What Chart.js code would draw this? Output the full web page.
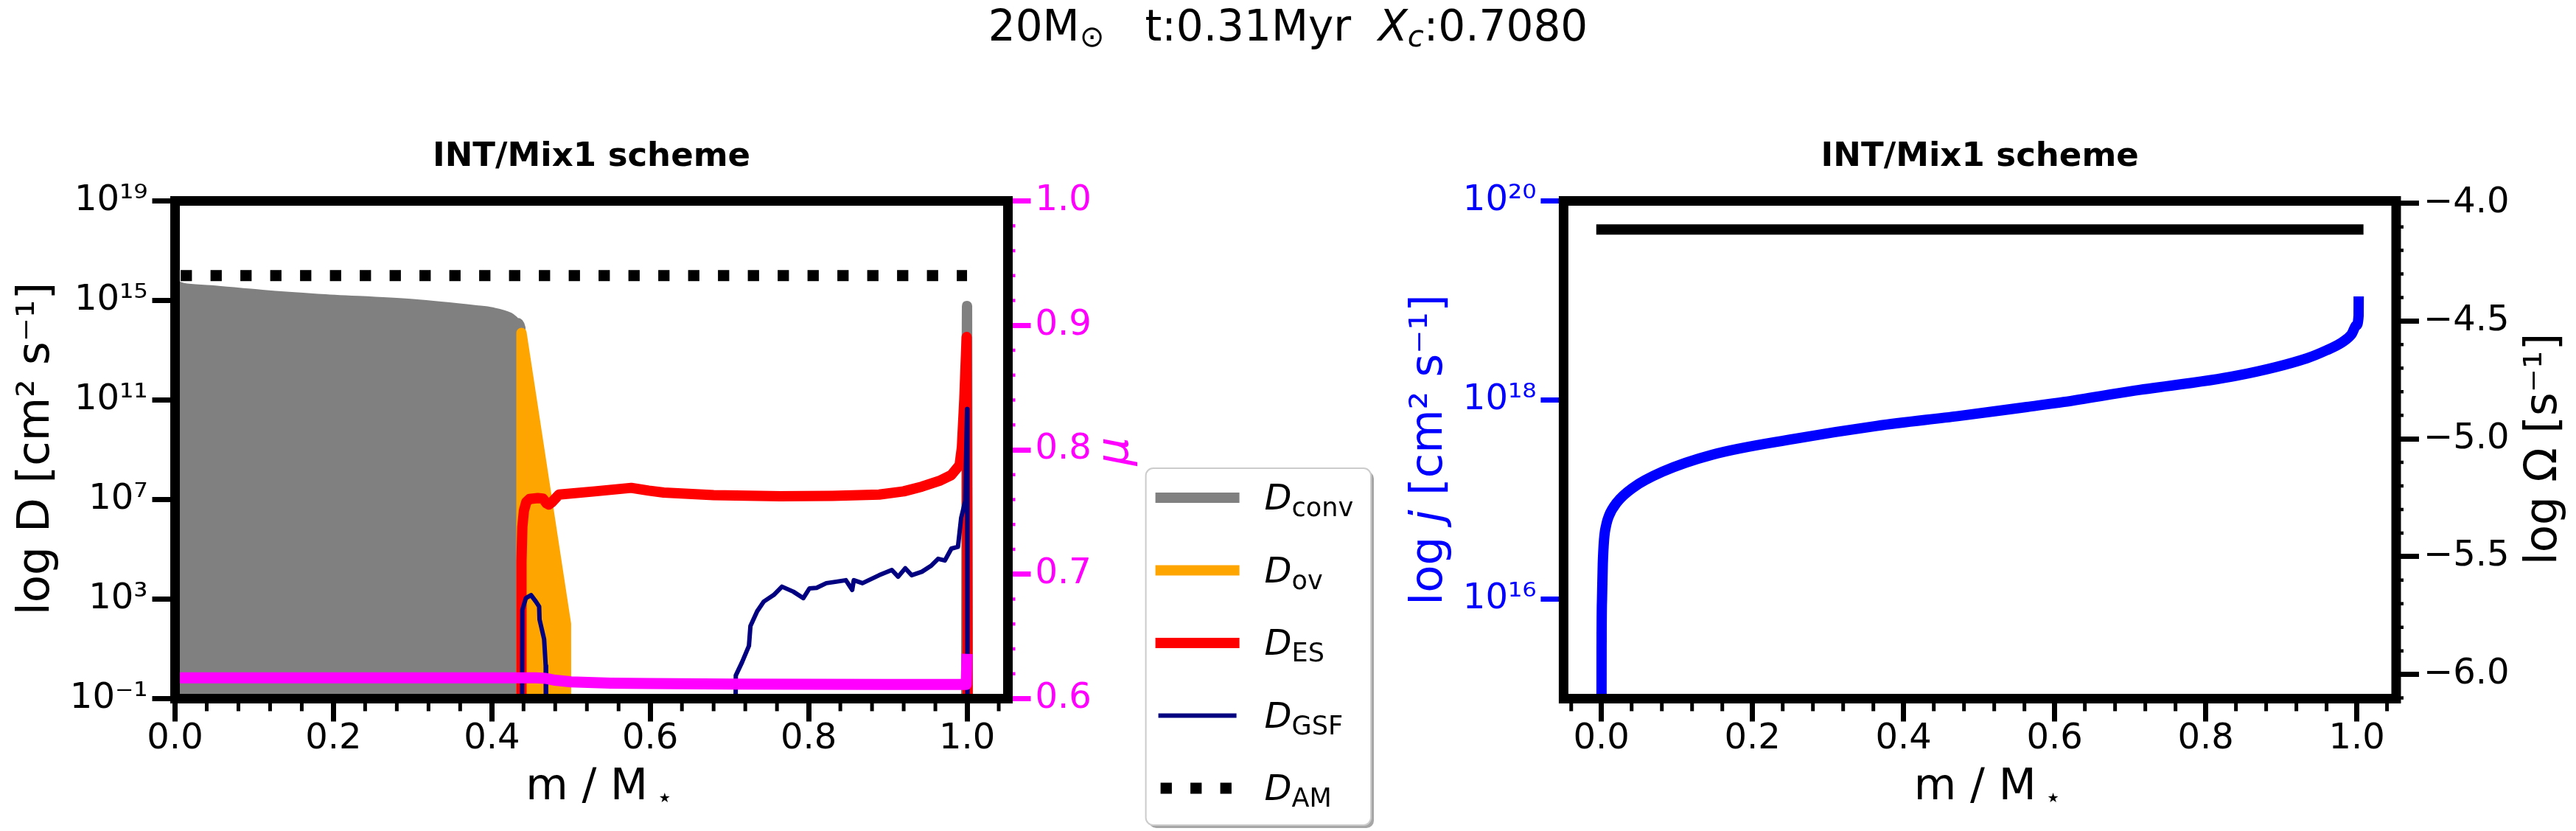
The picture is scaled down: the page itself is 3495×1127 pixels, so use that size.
<!DOCTYPE html>
<html>
<head>
<meta charset="utf-8">
<title>Diffusion coefficients and angular momentum profile</title>
<script src="https://cdn.jsdelivr.net/npm/chart.js@4.4.0/dist/chart.umd.min.js"></script>
<style>
  html, body { margin: 0; padding: 0; background: #fff; overflow: hidden; }
  #page { position: relative; width: 3495px; height: 1127px; }
  canvas { position: absolute; top: 0; }
  #leftChart { left: 0; }
  #rightChart { left: 1880px; }
  #suptitle {
    position: absolute; left: 0; top: 6px; width: 3495px;
    text-align: center; white-space: pre; color: #000;
    font-family: 'DejaVu Sans'; font-size: 58px; line-height: 58px;
  }
  #suptitle sub { font-size: 40px; vertical-align: -8px; line-height: 0; }
</style>
</head>
<body>
<div id="page">
  <canvas id="leftChart" width="1880" height="1127"></canvas>
  <canvas id="rightChart" width="1615" height="1127"></canvas>
  <div id="suptitle">20M<sub>⊙</sub>&nbsp;&nbsp; t:0.31Myr&nbsp; <i>X<sub>c</sub></i>:0.7080</div>
</div>
<script>
// ---- left panel: diffusion coefficients (log10 D) and mean molecular weight ----
const convX = [0, 0.01, 0.045, 0.11, 0.18, 0.30, 0.38, 0.40, 0.422, 0.432, 0.436, 0.4362, 0.9985, 1.0, 1.0012];
const convY = [15.6, 15.5, 15.41, 15.22, 15.06, 14.85, 14.6, 14.52, 14.32, 14.1, 13.9, -5, -5, 14.78, -5];

const ovX = [0.4372, 0.4374, 0.4936, 0.4938];
const ovY = [-5, 13.7, 2.0, -5];

const esX = [0.4372, 0.4374, 0.4385, 0.4405, 0.4435, 0.4475, 0.458, 0.4645, 0.469, 0.472, 0.476, 0.4848,
             0.53, 0.576, 0.598, 0.617, 0.68, 0.764, 0.83, 0.889, 0.92, 0.943, 0.965, 0.98,
             0.9906, 0.9935, 0.9965, 0.9995, 1.001];
const esY = [-5, 4.5, 5.9, 6.55, 6.9, 7.02, 7.06, 7.04, 6.85, 6.8, 6.9, 7.2,
             7.33, 7.47, 7.36, 7.28, 7.18, 7.13, 7.15, 7.2, 7.33, 7.52, 7.75, 7.98,
             8.39, 9.1, 11.0, 13.53, -5];

const gsfX = [0.4378, 0.4385, 0.443, 0.4495, 0.4556, 0.4597, 0.4602, 0.466, 0.468, 0.4685,
              0.707, 0.708, 0.716, 0.7246, 0.7265, 0.735, 0.7433, 0.756, 0.7663, 0.7806,
              0.7933, 0.801, 0.81, 0.8223, 0.835, 0.847, 0.855, 0.857, 0.868, 0.889,
              0.905, 0.913, 0.922, 0.93, 0.943, 0.955, 0.9635, 0.972, 0.9802, 0.9885,
              0.9926, 0.9977, 1.0, 1.0005];
const gsfY = [-5, 2.57, 3.04, 3.16, 2.9, 2.7, 2.18, 1.39, 0.32, -5,
              -5, -0.07, 0.47, 1.12, 1.92, 2.51, 2.9, 3.17, 3.5, 3.3,
              3.04, 3.43, 3.45, 3.64, 3.7, 3.76, 3.37, 3.76, 3.64, 3.96,
              4.17, 3.9, 4.24, 3.96, 4.1, 4.35, 4.62, 4.55, 5.03, 5.1,
              6.27, 6.94, 10.64, -5];

const amX = [0, 1.0];
const amY = [16.0, 16.0];

const muX = [0, 0.2, 0.4, 0.455, 0.468, 0.48, 0.5, 0.55, 0.6, 0.7, 0.8, 0.9, 0.999, 1.0];
const muY = [0.6167, 0.6167, 0.6167, 0.6167, 0.6163, 0.6148, 0.6135, 0.6125, 0.6122, 0.6117, 0.6115, 0.6114, 0.6114, 0.636];

// ---- right panel: specific angular momentum (log10 j) and log Omega ----
const jX = [0, 0.0002, 0.0008, 0.0018, 0.0035, 0.0065, 0.0096, 0.0204, 0.042, 0.081, 0.1466, 0.2557,
            0.3646, 0.4735, 0.563, 0.612, 0.702, 0.8414, 0.934, 0.96, 0.9806, 0.993, 0.9995, 1.0024, 1.0025];
const jY = [14.0, 15.5, 16.0, 16.35, 16.6, 16.75, 16.83, 16.97, 17.12, 17.28, 17.45, 17.61,
            17.74, 17.84, 17.93, 17.98, 18.09, 18.245, 18.42, 18.5, 18.58, 18.66, 18.75, 18.85, 19.04];

const omegaX = [0, 1.002];
const omegaY = [-4.1115, -4.1115];

// ---- ticks ----
const xTickVals = [0, 0.2, 0.4, 0.6, 0.8, 1.0];
const xTickLabels = ['0.0', '0.2', '0.4', '0.6', '0.8', '1.0'];
const dTickVals = [-1, 3, 7, 11, 15, 19];
const dTickLabels = ['10⁻¹', '10³', '10⁷', '10¹¹', '10¹⁵', '10¹⁹'];
const muTickVals = [0.6, 0.7, 0.8, 0.9, 1.0];
const muTickLabels = ['0.6', '0.7', '0.8', '0.9', '1.0'];
const jTickVals = [16, 18, 20];
const jTickLabels = ['10¹⁶', '10¹⁸', '10²⁰'];
const omegaTickVals = [-6.0, -5.5, -5.0, -4.5, -4.0];
const omegaTickLabels = ['−6.0', '−5.5', '−5.0', '−4.5', '−4.0'];

// minor tick positions (skip the ones sitting on a major tick)
function minorTicks(from, to, step, majors) {
  const out = [];
  const n = Math.round((to - from) / step);
  for (let i = 0; i <= n; i++) {
    const v = +(from + i * step).toFixed(4);
    if (!majors.some(m => Math.abs(m - v) < 1e-6)) out.push(v);
  }
  return out;
}
const xMinorLeft = minorTicks(0, 1.04, 0.04, xTickVals);
const xMinorRight = minorTicks(-0.04, 1.04, 0.04, xTickVals);
const muMinor = minorTicks(0.6, 1.0, 0.02, muTickVals);
const omegaMinor = minorTicks(-6.1, -4.0, 0.1, omegaTickVals);

const FONT = 'DejaVu Sans';
Chart.defaults.font.family = FONT;
Chart.defaults.color = '#000';

function toPoints(xs, ys) {
  return xs.map((x, i) => ({ x: x, y: ys[i] }));
}

// one axis with fixed ticks and fixed box size
function axisOpts(position, min, max, tickVals, tickLabels, color, boxSize) {
  return {
    type: 'linear',
    position: position,
    min: min,
    max: max,
    bounds: 'data',
    afterBuildTicks: (axis) => { axis.ticks = tickVals.map(v => ({ value: v })); },
    afterFit: (axis) => {
      if (axis.isHorizontal()) axis.height = boxSize;
      else axis.width = boxSize;
    },
    grid: { drawOnChartArea: false, drawTicks: true, tickLength: 31, tickWidth: 7, tickColor: color },
    border: { display: false },
    ticks: {
      color: color,
      padding: position === 'bottom' ? 0 : 6,
      autoSkip: false,
      maxRotation: 0,
      minRotation: 0,
      font: { size: 48, lineHeight: 1 },
      callback: (value, index) => tickLabels[index]
    }
  };
}

// draw a line of text made of several styled pieces
function drawRich(ctx, spec) {
  ctx.save();
  ctx.translate(spec.x, spec.y);
  if (spec.rotate) ctx.rotate(-Math.PI / 2);
  ctx.fillStyle = spec.color;
  ctx.textBaseline = 'alphabetic';
  ctx.textAlign = 'left';
  const fonts = spec.parts.map(p =>
    (p.italic ? 'italic ' : '') + Math.round(spec.size * (p.scale || 1)) + 'px "' + FONT + '"');
  let total = 0;
  const widths = spec.parts.map((p, i) => {
    ctx.font = fonts[i];
    const w = ctx.measureText(p.text).width;
    total += w;
    return w;
  });
  let cx = spec.align === 'left' ? 0 : -total / 2;
  spec.parts.forEach((p, i) => {
    ctx.font = fonts[i];
    ctx.fillText(p.text, cx + (p.dx || 0), p.dy || 0);
    cx += widths[i];
  });
  ctx.restore();
}

function roundRectPath(ctx, x, y, w, h, r) {
  ctx.beginPath();
  ctx.moveTo(x + r, y);
  ctx.arcTo(x + w, y, x + w, y + h, r);
  ctx.arcTo(x + w, y + h, x, y + h, r);
  ctx.arcTo(x, y + h, x, y, r);
  ctx.arcTo(x, y, x + w, y, r);
  ctx.closePath();
}

function drawLegend(chart, lg) {
  const ctx = chart.ctx;
  ctx.save();
  roundRectPath(ctx, lg.left + 4, lg.top + 4, lg.width, lg.height, 10);
  ctx.fillStyle = 'rgba(0,0,0,0.35)';
  ctx.fill();
  roundRectPath(ctx, lg.left, lg.top, lg.width, lg.height, 10);
  ctx.fillStyle = '#fff';
  ctx.fill();
  ctx.strokeStyle = '#cccccc';
  ctx.lineWidth = 2;
  ctx.stroke();
  ctx.restore();

  chart.data.datasets.filter(ds => ds.legendSub).forEach((ds, i) => {
    const y = lg.top + lg.firstRow + i * lg.rowGap;
    ctx.save();
    ctx.strokeStyle = ds.borderColor;
    ctx.lineWidth = ds.borderWidth;
    if (ds.borderDash) {
      ctx.lineCap = 'butt';
      ctx.setLineDash(ds.borderDash);
    } else {
      ctx.lineCap = 'square';
    }
    ctx.beginPath();
    ctx.moveTo(lg.left + 20, y);
    ctx.lineTo(lg.left + 120, y);
    ctx.stroke();
    ctx.restore();
    drawRich(ctx, {
      x: lg.left + 161, y: y + 16, size: 48, color: '#000', align: 'left',
      parts: [{ text: 'D', italic: true }, { text: ds.legendSub, scale: 0.72, dy: 9 }]
    });
  });
}

// frame, minor ticks, axis titles and legend
const decorPlugin = {
  id: 'decor',
  afterDatasetsDraw(chart, args, opts) {
    const ctx = chart.ctx;
    const a = chart.chartArea;
    (opts.minor || []).forEach(m => {
      const scale = chart.scales[m.axis];
      ctx.save();
      ctx.strokeStyle = m.color;
      ctx.lineWidth = m.width;
      ctx.beginPath();
      m.values.forEach(v => {
        const p = scale.getPixelForValue(v);
        if (scale.isHorizontal()) {
          ctx.moveTo(p, a.bottom); ctx.lineTo(p, a.bottom + m.length);
        } else if (scale.position === 'left') {
          ctx.moveTo(a.left - m.length, p); ctx.lineTo(a.left, p);
        } else {
          ctx.moveTo(a.right, p); ctx.lineTo(a.right + m.length, p);
        }
      });
      ctx.stroke();
      ctx.restore();
    });

    ctx.save();
    ctx.strokeStyle = '#000';
    ctx.lineWidth = 13;
    ctx.strokeRect(a.left, a.top, a.right - a.left, a.bottom - a.top);
    ctx.restore();

    const midX = (a.left + a.right) / 2;
    const midY = (a.top + a.bottom) / 2;
    (opts.titles || []).forEach(t => {
      const spec = Object.assign({}, t);
      if (t.side === 'bottom') { spec.x = midX + t.offset; spec.y = a.bottom + t.gap; }
      if (t.side === 'left') { spec.x = a.left - t.gap; spec.y = midY + t.offset; spec.rotate = true; }
      if (t.side === 'right') { spec.x = a.right + t.gap; spec.y = midY + t.offset; spec.rotate = true; }
      drawRich(ctx, spec);
    });

    if (opts.legend) drawLegend(chart, opts.legend);
  }
};

const xTitleParts = [{ text: 'm / M ' }, { text: '★', scale: 0.3, dy: 4, dx: -4 }];

const titleOpts = {
  display: true,
  text: 'INT/Mix1 scheme',
  fullSize: false,
  color: '#000',
  font: { size: 45, weight: 'bold', lineHeight: 1.2 },
  padding: { top: 186.5, bottom: 32 }
};

const lineBase = { pointRadius: 0, borderJoinStyle: 'round', borderCapStyle: 'butt' };

// ---- left chart ----
new Chart(document.getElementById('leftChart'), {
  type: 'line',
  data: {
    datasets: [
      Object.assign({}, lineBase, {
        data: toPoints(convX, convY), borderColor: '#808080', backgroundColor: '#808080',
        borderWidth: 14, fill: 'start', cubicInterpolationMode: 'monotone', order: 5, legendSub: 'conv'
      }),
      Object.assign({}, lineBase, {
        data: toPoints(ovX, ovY), borderColor: '#ffa500', backgroundColor: '#ffa500',
        borderWidth: 14, fill: 'start', order: 4, legendSub: 'ov'
      }),
      Object.assign({}, lineBase, {
        data: toPoints(esX, esY), borderColor: '#ff0000', borderWidth: 14, order: 3, legendSub: 'ES'
      }),
      Object.assign({}, lineBase, {
        data: toPoints(gsfX, gsfY), borderColor: '#000080', borderWidth: 6, order: 2, legendSub: 'GSF'
      }),
      Object.assign({}, lineBase, {
        data: toPoints(amX, amY), borderColor: '#000000', borderWidth: 15,
        borderDash: [15.3, 25.2], borderDashOffset: 32.9, order: 1, legendSub: 'AM'
      }),
      Object.assign({}, lineBase, {
        data: toPoints(muX, muY), borderColor: '#ff00ff', borderWidth: 15, yAxisID: 'y1', order: 0
      })
    ]
  },
  options: {
    responsive: false,
    animation: false,
    devicePixelRatio: 1,
    events: [],
    layout: { padding: { left: 0, right: 312.5, top: 0, bottom: 0 } },
    scales: {
      x: axisOpts('bottom', 0, 1.0516, xTickVals, xTickLabels, '#000', 179.5),
      y: axisOpts('left', -1, 19, dTickVals, dTickLabels, '#000', 237.5),
      y1: axisOpts('right', 0.6, 1.0, muTickVals, muTickLabels, '#ff00ff', 200)
    },
    plugins: {
      legend: { display: false },
      tooltip: { enabled: false },
      title: titleOpts,
      decor: {
        minor: [
          { axis: 'x', values: xMinorLeft, length: 17, width: 5, color: '#000' },
          { axis: 'y1', values: muMinor, length: 10, width: 4.5, color: '#ff00ff' }
        ],
        titles: [
          { side: 'left', gap: 171.5, offset: -1.5, size: 61, color: '#000', parts: [{ text: 'log D [cm² s⁻¹]' }] },
          { side: 'right', gap: 162.5, offset: 2, size: 61, color: '#ff00ff', parts: [{ text: 'μ', italic: true }] },
          { side: 'bottom', gap: 136.2, offset: 11, size: 59, color: '#000', parts: xTitleParts }
        ],
        legend: { left: 1554.6, top: 635, width: 305.4, height: 484, firstRow: 40, rowGap: 98.5 }
      }
    }
  },
  plugins: [decorPlugin]
});

// ---- right chart ----
new Chart(document.getElementById('rightChart'), {
  type: 'line',
  data: {
    datasets: [
      Object.assign({}, lineBase, {
        data: toPoints(jX, jY), borderColor: '#0000ff', borderWidth: 14,
        cubicInterpolationMode: 'monotone', order: 1
      }),
      Object.assign({}, lineBase, {
        data: toPoints(omegaX, omegaY), borderColor: '#000000', borderWidth: 14,
        borderCapStyle: 'square', yAxisID: 'y1', order: 0
      })
    ]
  },
  options: {
    responsive: false,
    animation: false,
    devicePixelRatio: 1,
    events: [],
    layout: { padding: 0 },
    scales: {
      x: axisOpts('bottom', -0.0501, 1.0521, xTickVals, xTickLabels, '#000', 179.5),
      y: axisOpts('left', 15, 20, jTickVals, jTickLabels, '#0000ff', 241.4),
      y1: axisOpts('right', -6.103, -3.99, omegaTickVals, omegaTickLabels, '#000', 244)
    },
    plugins: {
      legend: { display: false },
      tooltip: { enabled: false },
      title: titleOpts,
      decor: {
        minor: [
          { axis: 'x', values: xMinorRight, length: 17, width: 5, color: '#000' },
          { axis: 'y1', values: omegaMinor, length: 10, width: 4.5, color: '#000' }
        ],
        titles: [
          { side: 'left', gap: 165.4, offset: 0, size: 61, color: '#0000ff',
            parts: [{ text: 'log ' }, { text: 'j', italic: true }, { text: ' [cm² s⁻¹]' }] },
          { side: 'right', gap: 217, offset: -1, size: 61, color: '#000', parts: [{ text: 'log Ω [s⁻¹]' }] },
          { side: 'bottom', gap: 136.2, offset: 11, size: 59, color: '#000', parts: xTitleParts }
        ]
      }
    }
  },
  plugins: [decorPlugin]
});
</script>
</body>
</html>
